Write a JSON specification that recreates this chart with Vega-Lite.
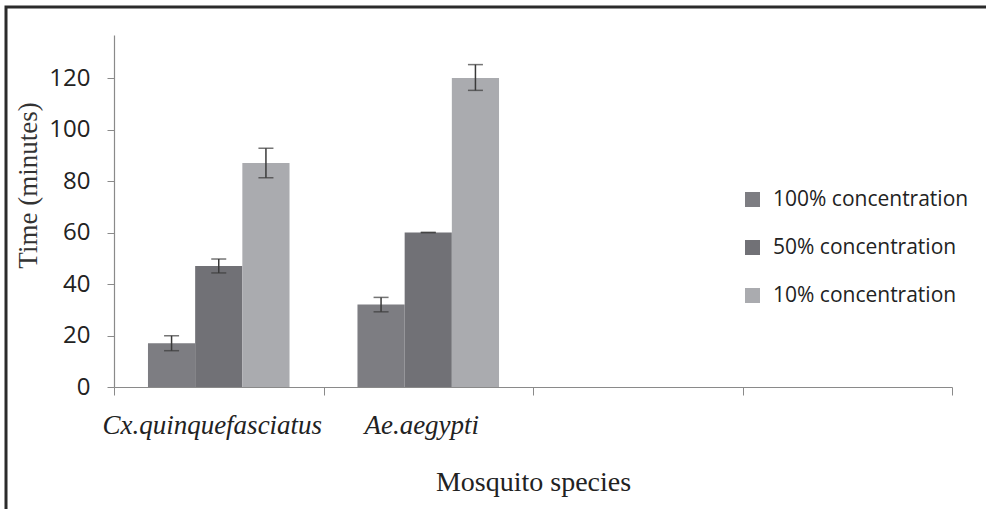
{
  "$schema": "https://vega.github.io/schema/vega-lite/v6.json",
  "autosize": {"type": "none"},
  "padding": {"left": 6, "top": 7, "right": -10, "bottom": -10},
  "width": 990,
  "height": 512,
  "background": "white",
  "config": {
    "view": {"stroke": "#2b2b2b", "strokeWidth": 3},
    "axis": {"grid": false}
  },
  "data": {
    "values": [
      {"species": "Cx.quinquefasciatus", "concentration": "100% concentration", "time": 17, "low": 14.1, "high": 19.9},
      {"species": "Cx.quinquefasciatus", "concentration": "50% concentration", "time": 47, "low": 44.3, "high": 49.7},
      {"species": "Cx.quinquefasciatus", "concentration": "10% concentration", "time": 87, "low": 81.3, "high": 92.7},
      {"species": "Ae.aegypti", "concentration": "100% concentration", "time": 32, "low": 29.2, "high": 34.8},
      {"species": "Ae.aegypti", "concentration": "50% concentration", "time": 60, "low": 60, "high": 60},
      {"species": "Ae.aegypti", "concentration": "10% concentration", "time": 120, "low": 115.2, "high": 125.2}
    ]
  },
  "encoding": {
    "x": {
      "field": "species",
      "type": "nominal",
      "sort": null,
      "scale": {
        "domain": ["Cx.quinquefasciatus", "Ae.aegypti", "c3", "c4"],
        "range": [108, 946],
        "paddingInner": 0,
        "paddingOuter": 0
      },
      "axis": {
        "orient": "bottom",
        "offset": -132,
        "title": "Mosquito species",
        "titleFont": "Liberation Serif",
        "titleFontSize": 28,
        "titleFontWeight": "normal",
        "titleColor": "#222222",
        "titlePadding": 30,
        "labelExpr": "datum.value == 'c3' || datum.value == 'c4' ? '' : datum.label",
        "labelAngle": 0,
        "labelLimit": 0,
        "labelOffset": -7,
        "labelFont": "Liberation Serif",
        "labelFontStyle": "italic",
        "labelFontSize": 27,
        "labelColor": "#222222",
        "labelPadding": 17,
        "tickBand": "extent",
        "tickSize": 8,
        "tickColor": "#8a8a8a",
        "domainColor": "#8a8a8a",
        "domainWidth": 1.2
      }
    },
    "xOffset": {
      "field": "concentration",
      "type": "nominal",
      "sort": ["100% concentration", "50% concentration", "10% concentration"],
      "scale": {"paddingInner": 0, "paddingOuter": 0.72}
    }
  },
  "layer": [
    {
      "mark": {"type": "bar"},
      "encoding": {
        "y": {
          "field": "time",
          "type": "quantitative",
          "scale": {"domain": [0, 136.7], "range": [380, 28], "nice": false, "zero": true},
          "axis": {
            "orient": "left",
            "offset": -108,
            "values": [0, 20, 40, 60, 80, 100, 120],
            "title": "Time (minutes)",
            "titleFont": "Liberation Serif",
            "titleFontSize": 27,
            "titleFontWeight": "normal",
            "titleColor": "#333333",
            "titlePadding": 6,
            "titleY": 178,
            "labelFont": "Open Sans",
            "labelFontSize": 24,
            "labelColor": "#222222",
            "labelPadding": 17,
            "tickSize": 7,
            "tickColor": "#8a8a8a",
            "domainColor": "#8a8a8a",
            "domainWidth": 1.2
          }
        },
        "color": {
          "field": "concentration",
          "type": "nominal",
          "sort": ["100% concentration", "50% concentration", "10% concentration"],
          "scale": {
            "domain": ["100% concentration", "50% concentration", "10% concentration"],
            "range": ["#7d7d82", "#717176", "#aaabaf"]
          },
          "legend": {
            "title": null,
            "orient": "none",
            "legendX": 736,
            "legendY": 182,
            "symbolType": "square",
            "symbolSize": 225,
            "symbolStrokeWidth": 0,
            "labelFont": "Open Sans",
            "labelFontSize": 21,
            "labelLimit": 0,
            "labelColor": "#222222",
            "labelOffset": 10,
            "rowPadding": 26
          }
        }
      }
    },
    {
      "mark": {"type": "rule", "color": "#3a3a3a", "strokeWidth": 1.5},
      "encoding": {
        "y": {"field": "low", "type": "quantitative"},
        "y2": {"field": "high"}
      }
    },
    {
      "mark": {"type": "tick", "color": "#3a3a3a", "thickness": 1.5, "size": 15},
      "encoding": {
        "y": {"field": "low", "type": "quantitative"}
      }
    },
    {
      "mark": {"type": "tick", "color": "#3a3a3a", "thickness": 1.5, "size": 15},
      "encoding": {
        "y": {"field": "high", "type": "quantitative"}
      }
    }
  ]
}
